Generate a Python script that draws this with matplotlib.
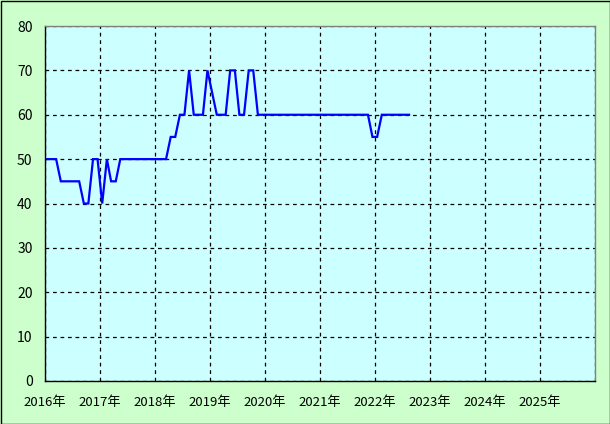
import matplotlib
matplotlib.use("Agg")
import matplotlib.pyplot as plt
import pandas as pd
from matplotlib.patches import Rectangle

plt.rcParams['font.family'] = ['Noto Sans CJK JP', 'DejaVu Sans']

start_month = "2016-01-01"
values = [50, 50, 50, 45, 45, 45, 45, 45, 40, 40, 50, 50,   # 2016
          40, 50, 45, 45, 50, 50, 50, 50, 50, 50, 50, 50,   # 2017
          50, 50, 50, 55, 55, 60, 60, 70, 60, 60, 60, 70,   # 2018
          65, 60, 60, 60, 70, 70, 60, 60, 70, 70, 60, 60,   # 2019
          60, 60, 60, 60, 60, 60, 60, 60, 60, 60, 60, 60,   # 2020
          60, 60, 60, 60, 60, 60, 60, 60, 60, 60, 60, 55,   # 2021
          55, 60, 60, 60, 60, 60, 60, 60]                   # 2022
years = list(range(2016, 2027))
year_labels = [f"{y}年" for y in years[:-1]] + [""]
y_ticks = [0, 10, 20, 30, 40, 50, 60, 70, 80]

dates = pd.date_range(start_month, periods=len(values), freq="MS") + pd.Timedelta(days=14)

fig = plt.figure(figsize=(6.10, 4.24), dpi=100, facecolor="#ccffcc")
ax = fig.add_axes([45/610, 43/424, 550/610, 355/424])
ax.set_facecolor("#ccffff")

ax.plot(dates, values, color="#0000ff", lw=1.6, solid_joinstyle="miter")

ax.set_xlim(pd.Timestamp("2016-01-01"), pd.Timestamp("2026-01-01"))
ax.set_ylim(0, 80)
ax.set_xticks([pd.Timestamp(f"{y}-01-01") for y in years])
ax.set_xticklabels(year_labels, fontsize=9.5)
ax.set_yticks(y_ticks)
ax.set_yticklabels([str(v) for v in y_ticks], fontsize=10)
ax.tick_params(length=0, pad=9)
ax.tick_params(axis='x', pad=11)
ax.grid(True, color="black", linestyle=(0, (3, 3)), lw=0.9)
for s in ["left", "bottom"]:
    ax.spines[s].set_color("black")
    ax.spines[s].set_linewidth(1.0)
for s in ["top", "right"]:
    ax.spines[s].set_color("#808080")
    ax.spines[s].set_linewidth(1.0)

fig.patches.append(Rectangle((0.5/610, 0.5/424), 609/610, 423/424, transform=fig.transFigure,
                             fill=False, edgecolor="black", lw=1.0))

fig.savefig("out.png", dpi=100, facecolor=fig.get_facecolor())
